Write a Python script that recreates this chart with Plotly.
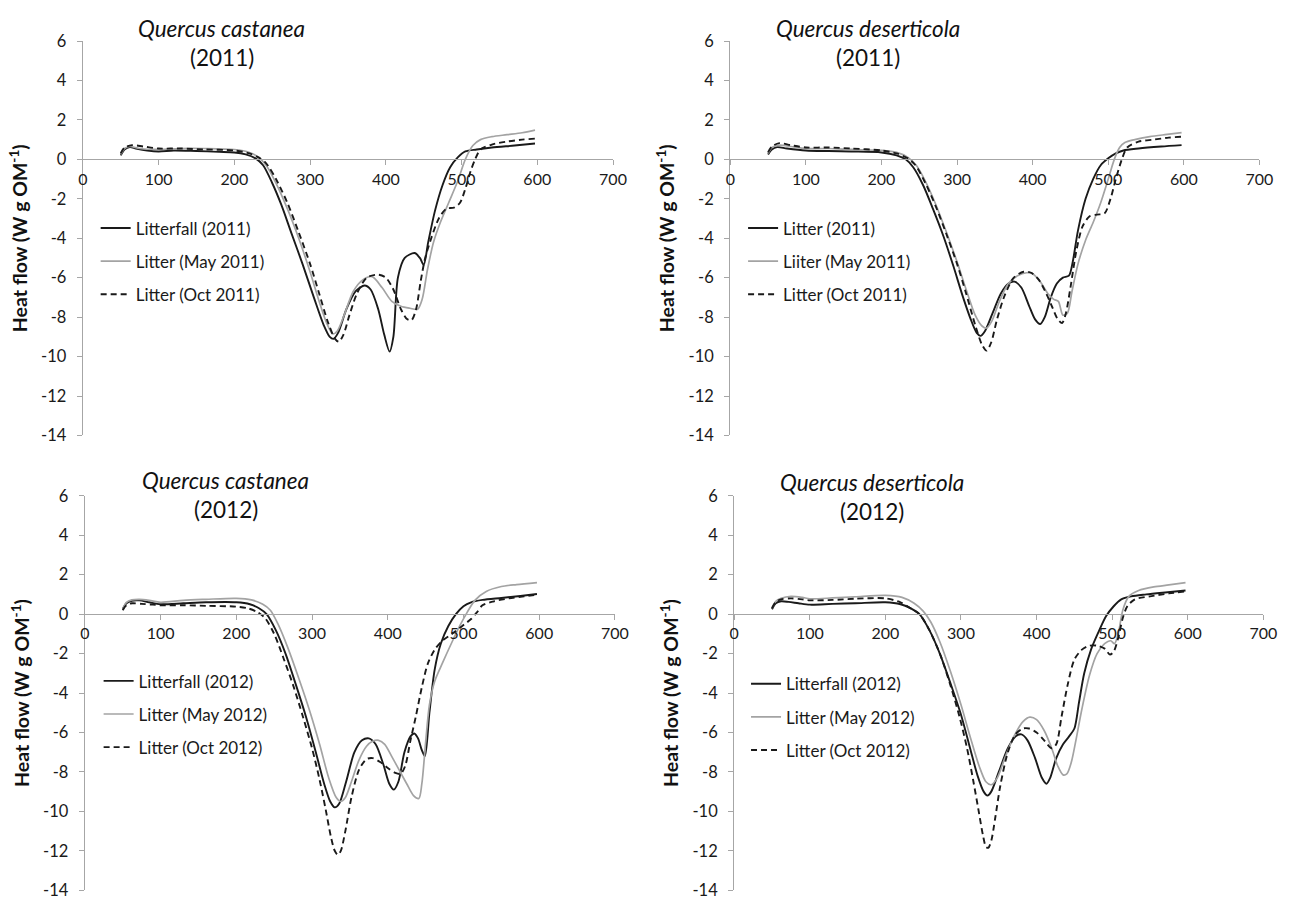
import plotly.graph_objects as go

# ---------------- data (temperature °C, heat flow W g OM-1) ----------------
# Panel 1: Quercus castanea (2011)
qc11_names = ["Litterfall (2011)", "Litter (May 2011)", "Litter (Oct 2011)"]
qc11_a_t = [50, 55, 62, 70, 85, 100, 120, 150, 180, 200, 215, 228, 238, 250, 262, 275, 290, 305, 318, 326, 331, 337, 348, 360, 372, 380, 390, 398, 405, 410, 416, 425, 438, 445, 450, 456, 465, 475, 485, 495, 505, 520, 540, 570, 597]
qc11_a_hf = [0.2, 0.5, 0.62, 0.55, 0.45, 0.4, 0.45, 0.42, 0.38, 0.35, 0.25, 0.05, -0.3, -1.2, -2.3, -3.7, -5.3, -7.0, -8.4, -9.0, -9.1, -8.8, -7.6, -6.7, -6.4, -6.6, -7.6, -8.9, -9.75, -9.0, -6.0, -5.0, -4.75, -5.0, -5.35, -4.2, -2.6, -1.3, -0.4, 0.1, 0.4, 0.5, 0.6, 0.7, 0.8]
qc11_b_t = [50, 55, 62, 75, 100, 130, 160, 200, 220, 232, 242, 255, 270, 285, 300, 312, 322, 330, 336, 345, 357, 370, 382, 395, 408, 420, 432, 442, 448, 455, 463, 472, 483, 495, 505, 515, 525, 540, 560, 580, 597]
qc11_b_hf = [0.25, 0.55, 0.65, 0.55, 0.5, 0.55, 0.55, 0.5, 0.35, 0.1, -0.3, -1.2, -2.5, -4.0, -5.7, -7.2, -8.3, -8.85, -8.7, -7.9, -6.7, -6.1, -5.95, -6.5, -7.2, -7.45, -7.55, -7.6, -7.1, -5.6, -4.2, -3.2, -2.2, -1.1, 0.0, 0.7, 1.0, 1.15, 1.25, 1.35, 1.48]
qc11_c_t = [50, 55, 65, 80, 100, 130, 160, 200, 220, 232, 242, 255, 270, 285, 300, 312, 324, 333, 338, 344, 352, 362, 375, 390, 400, 410, 420, 428, 434, 440, 446, 452, 460, 470, 480, 490, 498, 505, 512, 518, 525, 540, 560, 580, 597]
qc11_c_hf = [0.3, 0.6, 0.72, 0.65, 0.55, 0.55, 0.5, 0.45, 0.3, 0.1, -0.2, -1.0, -2.2, -3.7, -5.3, -6.8, -8.3, -9.1, -9.25, -8.9, -7.9, -6.8, -6.0, -5.85, -6.0, -6.6, -7.6, -8.1, -8.15, -7.6, -6.2, -5.0, -4.0, -3.0, -2.5, -2.45, -2.2, -1.5, -0.6, 0.0, 0.5, 0.75, 0.9, 1.0, 1.05]

# Panel 2: Quercus deserticola (2011)
qd11_names = ["Litter (2011)", "Liiter (May 2011)", "Litter (Oct 2011)"]
qd11_a_t = [50, 55, 62, 75, 100, 130, 160, 200, 220, 232, 242, 255, 268, 282, 295, 308, 318, 326, 331, 337, 347, 358, 368, 376, 385, 395, 403, 410, 416, 424, 432, 440, 448, 453, 460, 470, 480, 490, 500, 510, 520, 540, 570, 597]
qd11_a_hf = [0.25, 0.5, 0.62, 0.55, 0.45, 0.42, 0.4, 0.35, 0.2, 0.0, -0.4, -1.3, -2.5, -3.9, -5.4, -7.0, -8.1, -8.8, -8.95, -8.7, -7.8, -6.8, -6.3, -6.2, -6.5, -7.4, -8.1, -8.35, -8.0, -7.0, -6.3, -6.0, -5.9, -5.2, -3.6, -2.0, -1.0, -0.3, 0.05, 0.3, 0.45, 0.55, 0.65, 0.72]
qd11_b_t = [50, 55, 65, 80, 100, 130, 160, 200, 220, 235, 246, 258, 272, 286, 300, 312, 324, 333, 339, 346, 356, 368, 380, 392, 400, 410, 420, 428, 434, 440, 446, 452, 460, 470, 480, 490, 500, 508, 515, 522, 535, 555, 575, 597]
qd11_b_hf = [0.3, 0.6, 0.72, 0.65, 0.55, 0.55, 0.5, 0.45, 0.35, 0.1, -0.3, -1.1, -2.3, -3.7, -5.2, -6.6, -7.9, -8.45, -8.55, -8.2, -7.2, -6.3, -5.9, -5.75, -5.8, -6.2, -6.8, -7.1, -7.2, -7.9, -7.8, -6.7, -5.3, -4.1, -3.2, -2.2, -1.0, 0.0, 0.6, 0.85, 1.0, 1.15, 1.25, 1.35]
qd11_c_t = [50, 55, 65, 80, 100, 130, 160, 200, 220, 235, 245, 258, 272, 286, 300, 312, 324, 333, 339, 345, 353, 363, 375, 388, 398, 408, 418, 426, 433, 439, 444, 450, 458, 466, 475, 485, 495, 503, 510, 518, 525, 540, 560, 580, 597]
qd11_c_hf = [0.35, 0.65, 0.82, 0.72, 0.6, 0.6, 0.55, 0.45, 0.3, 0.05, -0.3, -1.2, -2.4, -3.8, -5.3, -6.8, -8.4, -9.4, -9.7, -9.3, -8.1, -6.9, -6.0, -5.7, -5.75, -6.1, -6.8, -7.5, -8.1, -8.3, -7.8, -6.5, -4.6, -3.4, -2.9, -2.8, -2.75, -2.0, -1.0, 0.0, 0.6, 0.9, 1.0, 1.1, 1.15]

# Panel 3: Quercus castanea (2012)
qc12_names = ["Litterfall (2012)", "Litter (May 2012)", "Litter (Oct 2012)"]
qc12_a_t = [50, 55, 62, 72, 85, 100, 130, 160, 200, 218, 230, 240, 252, 265, 278, 292, 305, 316, 324, 330, 336, 345, 356, 366, 375, 384, 394, 402, 408, 414, 422, 430, 435, 440, 445, 449, 455, 462, 470, 480, 490, 500, 510, 525, 550, 575, 597]
qc12_a_hf = [0.25, 0.55, 0.68, 0.7, 0.6, 0.5, 0.55, 0.6, 0.6, 0.5, 0.3, 0.0, -0.8, -2.0, -3.5, -5.2, -7.0, -8.6, -9.5, -9.8, -9.6, -8.5, -7.0, -6.4, -6.3, -6.6, -7.6, -8.6, -8.9, -8.5, -7.0, -6.2, -6.05, -6.3, -6.9, -7.2, -5.0, -2.8, -1.5, -0.6, 0.0, 0.4, 0.6, 0.72, 0.82, 0.92, 1.02]
qc12_b_t = [50, 55, 62, 72, 85, 100, 130, 160, 200, 220, 235, 245, 255, 268, 282, 296, 310, 322, 332, 338, 344, 352, 362, 372, 380, 388, 396, 405, 415, 425, 434, 441, 445, 450, 455, 462, 472, 485, 495, 505, 515, 530, 550, 570, 597]
qc12_b_hf = [0.25, 0.6, 0.72, 0.75, 0.7, 0.6, 0.7, 0.75, 0.8, 0.72, 0.5, 0.2, -0.5, -1.7, -3.2, -4.8, -6.6, -8.3, -9.3, -9.5, -9.3, -8.5, -7.4, -6.7, -6.45, -6.4, -6.6, -7.2, -7.9, -8.6, -9.2, -9.35, -8.6, -6.5, -4.6, -3.4, -2.5, -1.4, -0.6, 0.1, 0.7, 1.15, 1.4, 1.5, 1.6]
qc12_c_t = [50, 55, 62, 75, 90, 100, 130, 160, 200, 215, 228, 238, 250, 262, 275, 288, 300, 310, 318, 325, 330, 334, 338, 344, 352, 362, 372, 380, 390, 400, 410, 417, 423, 430, 437, 445, 453, 462, 472, 485, 500, 510, 518, 525, 540, 560, 580, 597]
qc12_c_hf = [0.2, 0.45, 0.55, 0.52, 0.48, 0.45, 0.45, 0.42, 0.38, 0.3, 0.1, -0.2, -1.0, -2.2, -3.6, -5.2, -6.8, -8.4, -9.9, -11.3, -12.0, -12.2, -12.0, -11.0, -9.3, -7.9, -7.35, -7.3, -7.5, -7.8, -8.05, -8.1, -7.7, -6.4, -5.2, -3.7, -2.5, -1.8, -1.35, -1.0, -0.55, -0.25, 0.1, 0.45, 0.65, 0.8, 0.9, 0.98]

# Panel 4: Quercus deserticola (2012)
qd12_names = ["Litterfall (2012)", "Litter (May 2012)", "Litter (Oct 2012)"]
qd12_a_t = [50, 55, 62, 72, 85, 100, 130, 160, 200, 220, 233, 245, 258, 272, 286, 300, 312, 322, 330, 335, 340, 350, 362, 372, 380, 388, 398, 407, 413, 418, 426, 435, 443, 450, 456, 463, 472, 482, 492, 502, 512, 525, 545, 570, 597]
qd12_a_hf = [0.25, 0.55, 0.65, 0.62, 0.55, 0.48, 0.52, 0.55, 0.6, 0.5, 0.3, 0.0, -0.8, -2.0, -3.5, -5.1, -6.8, -8.2, -9.0, -9.2, -9.0, -8.0, -6.8, -6.2, -6.1, -6.4, -7.3, -8.3, -8.6, -8.3, -7.3, -6.6, -6.2, -5.8, -4.5, -3.0, -1.8, -0.9, -0.1, 0.4, 0.75, 0.9, 1.0, 1.1, 1.2]
qd12_b_t = [50, 55, 62, 75, 90, 100, 130, 160, 200, 222, 238, 250, 260, 272, 286, 300, 312, 324, 333, 340, 348, 358, 370, 382, 391, 400, 410, 420, 428, 435, 440, 446, 452, 460, 470, 480, 490, 498, 503, 508, 514, 522, 535, 555, 575, 597]
qd12_b_hf = [0.3, 0.65, 0.8, 0.9, 0.85, 0.78, 0.82, 0.88, 0.95, 0.85, 0.55, 0.15, -0.4, -1.4, -2.9, -4.6, -6.2, -7.7, -8.5, -8.65, -8.3, -7.3, -6.2, -5.45, -5.22, -5.35, -5.9, -6.8, -7.7, -8.15, -8.1, -7.5, -6.4, -4.8, -3.1, -2.0, -1.5, -1.35, -1.5, -1.0, 0.2, 0.9, 1.2, 1.38, 1.48, 1.6]
qd12_c_t = [50, 55, 62, 75, 90, 100, 130, 160, 200, 220, 233, 245, 258, 272, 286, 298, 308, 316, 323, 329, 333, 336, 340, 345, 352, 362, 372, 382, 390, 400, 410, 420, 426, 433, 441, 450, 460, 470, 480, 490, 497, 502, 508, 514, 520, 530, 550, 575, 597]
qd12_c_hf = [0.3, 0.62, 0.75, 0.8, 0.75, 0.7, 0.72, 0.78, 0.8, 0.6, 0.3, 0.0, -0.8, -2.0, -3.6, -5.2, -6.8, -8.4, -9.9, -11.2, -11.8, -11.85, -11.5, -10.4, -8.7, -7.0, -6.1, -5.8, -5.8, -6.0, -6.4, -6.8, -6.6, -5.2, -3.6, -2.3, -1.8, -1.6, -1.6, -1.75, -2.05, -1.9, -1.2, -0.2, 0.4, 0.75, 0.9, 1.05, 1.15]

panel_species = ["Quercus castanea", "Quercus deserticola", "Quercus castanea", "Quercus deserticola"]
panel_years = ["(2011)", "(2011)", "(2012)", "(2012)"]
x_ticks = [0, 100, 200, 300, 400, 500, 600, 700]
y_ticks = [6, 4, 2, 0, -2, -4, -6, -8, -10, -12, -14]
y_ticktext = ["6", "4", "2", "0", "-2", "-4", "-6", "-8", "-10", "-12", "-14"]
y_title = "Heat flow (W g OM<sup>-1</sup>)"

# ---------------- layout geometry (pixels) ----------------
W, H = 1303, 911
FONT = "Lato, 'Open Sans', sans-serif"
AXIS_COL = "#a6a6a6"
BLACK = "#1a1a1a"
GRAY = "#a3a3a3"

# (x0, x1, ytop, ybottom) in pixels for each panel
boxes = [(79, 617, 31.7, 435), (736, 1273, 31.7, 435),
         (81, 619, 496.7, 900), (740, 1277, 496.7, 900)]

panels = [
    (qc11_names, [(qc11_a_t, qc11_a_hf), (qc11_b_t, qc11_b_hf), (qc11_c_t, qc11_c_hf)]),
    (qd11_names, [(qd11_a_t, qd11_a_hf), (qd11_b_t, qd11_b_hf), (qd11_c_t, qd11_c_hf)]),
    (qc12_names, [(qc12_a_t, qc12_a_hf), (qc12_b_t, qc12_b_hf), (qc12_c_t, qc12_c_hf)]),
    (qd12_names, [(qd12_a_t, qd12_a_hf), (qd12_b_t, qd12_b_hf), (qd12_c_t, qd12_c_hf)]),
]
styles = [dict(color=BLACK, width=1.9, dash="solid"),
          dict(color=GRAY, width=1.7, dash="solid"),
          dict(color=BLACK, width=1.9, dash="6px,4px")]

# legend top-left (px) and title centres (px)
legend_pos = [(92, 205), (749, 205), (95, 668), (752, 671)]
title_pos = [(220, 19, 49), (876, 19, 49), (224, 481, 511), (880, 483, 513)]

fig = go.Figure()
layout = dict(width=W, height=H, margin=dict(l=0, r=0, t=0, b=0),
              paper_bgcolor="white", plot_bgcolor="white", showlegend=True,
              annotations=[])

for i, ((names, series), box) in enumerate(zip(panels, boxes)):
    k = "" if i == 0 else str(i + 1)
    x0, x1, yt, yb = box
    dx = [x0 / W, x1 / W]
    dy = [1 - yb / H, 1 - yt / H]
    legname = "legend" if i == 0 else f"legend{i + 1}"
    for j, ((t, hf), name) in enumerate(zip(series, names)):
        fig.add_trace(go.Scatter(
            x=t, y=hf, name=name, mode="lines",
            line=dict(shape="spline", smoothing=0.8, **styles[j]),
            xaxis="x" + k, yaxis="y" + k, legend=legname,
            legendgroup=f"g{i}_{j}"))
    xpos = dy[0] + (0 - (-14)) / 20 * (dy[1] - dy[0])
    layout["xaxis" + k] = dict(
        domain=dx, range=[0, 700], anchor="free", position=xpos,
        tickvals=x_ticks, ticks="outside", ticklen=5, tickcolor=AXIS_COL,
        showline=True, linecolor=AXIS_COL, linewidth=1.3, showgrid=False,
        zeroline=False, tickfont=dict(family=FONT, size=16, color="#1a1a1a"),
        fixedrange=True)
    layout["yaxis" + k] = dict(
        domain=dy, range=[-14, 6], anchor="x" + k,
        tickvals=y_ticks, ticktext=y_ticktext, ticks="outside", ticklen=5,
        tickcolor=AXIS_COL,
        showline=True, linecolor=AXIS_COL, linewidth=1.3, showgrid=False,
        zeroline=False, tickfont=dict(family=FONT, size=16.5, color="#1a1a1a"),
        ticklabelstandoff=7,
        title=dict(text="<b>" + y_title + "</b>", standoff=8,
                   font=dict(family=FONT, size=19.5, color="#111")),
        fixedrange=True)
    lx, ly = legend_pos[i]
    layout[legname] = dict(x=lx / W, y=1 - ly / H, xanchor="left", yanchor="top",
                           bgcolor="rgba(0,0,0,0)", tracegroupgap=8,
                           font=dict(family=FONT, size=17, color="#1a1a1a"))
    tx, ty1, ty2 = title_pos[i]
    layout["annotations"].append(dict(
        text="<i>" + panel_species[i] + "</i>", x=tx / W, y=1 - ty1 / H,
        xref="paper", yref="paper", showarrow=False, xanchor="center", yanchor="middle",
        font=dict(family=FONT, size=22.5, color="#111")))
    layout["annotations"].append(dict(
        text=panel_years[i], x=tx / W, y=1 - ty2 / H,
        xref="paper", yref="paper", showarrow=False, xanchor="center", yanchor="middle",
        font=dict(family=FONT, size=22.5, color="#111")))

fig.update_layout(**layout)
fig.write_html("out.html")
